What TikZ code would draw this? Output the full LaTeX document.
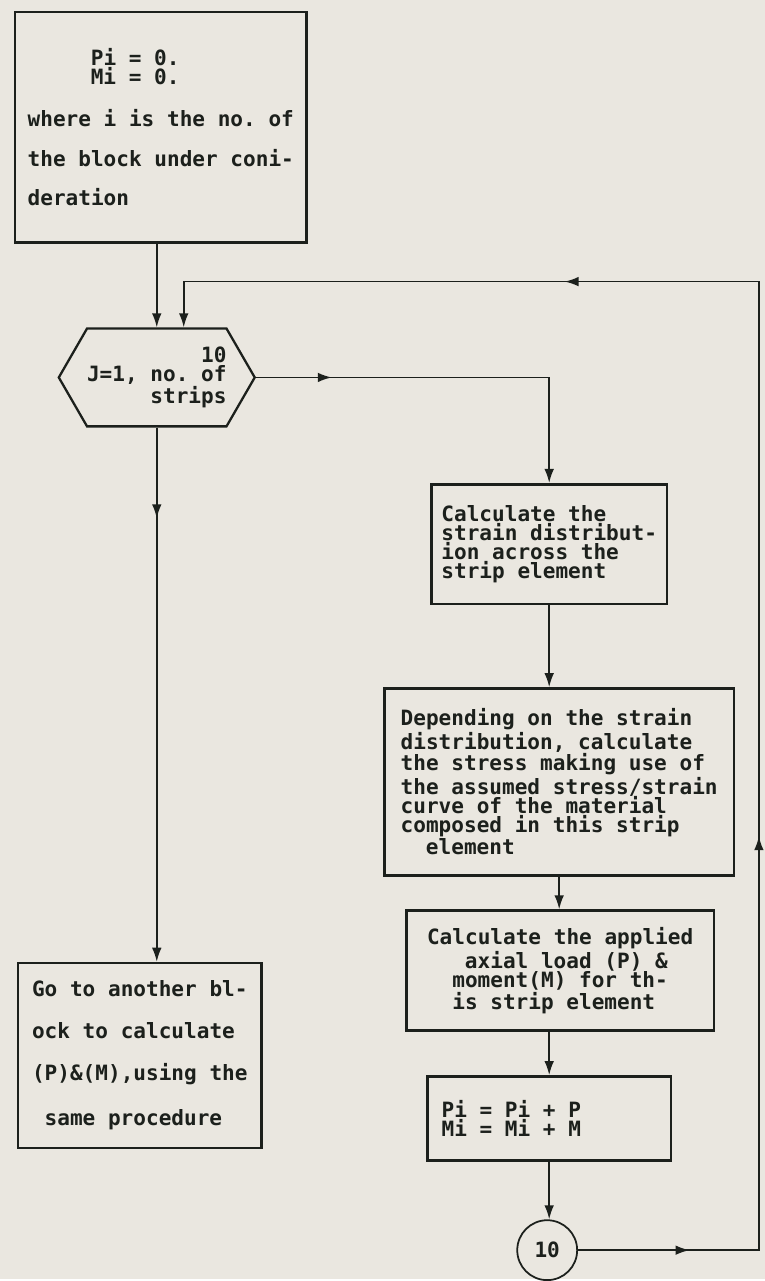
\documentclass[tikz,border=0pt]{standalone}
\usepackage{fontspec}
\setmonofont{DejaVu Sans Mono}
\usetikzlibrary{arrows.meta, shapes.symbols, decorations.markings}
\definecolor{paper}{RGB}{234,231,224}
\definecolor{ink}{RGB}{28,32,28}

\begin{document}
\begin{tikzpicture}[
  ink, >={Latex[length=8pt,width=5.5pt]},
  font=\ttfamily\bfseries\fontsize{12}{11}\selectfont\frenchspacing,
  box/.style={rectangle, draw, line width=1.5pt, align=left, inner sep=4pt},
  hexa/.style={signal, signal to=west and east, signal pointer angle=120, draw, line width=1.3pt, align=right, inner xsep=0pt},
  conn/.style={circle, draw, line width=1pt, minimum size=1.2cm},
  flow/.style={draw, line width=1pt, ->},
  midarrow/.style={postaction={decorate, decoration={markings, mark=at position #1 with {\arrow{>}}}}}
]
  \fill[paper] (0,0) rectangle (15.32,-25.62);

  \node[box, minimum width=5.84cm, minimum height=4.62cm] (init) at (3.22,-2.55)
    {\hspace*{3em}Pi = 0.\\\hspace*{3em}Mi = 0.\\[13pt]where i is the no. of\\[11.5pt]the block under coni-\\[11.5pt]deration};
  \node[hexa, minimum height=1.96cm] (doJ) at (3.14,-7.56) {10\\J=1, no. of\\strips};
  \node[box, minimum width=4.72cm, minimum height=2.4cm] (strain) at (11.0,-10.9)
    {Calculate the\\strain distribut-\\ion across the\\strip element};
  \node[box, minimum width=7.0cm, minimum height=3.74cm] (stress) at (11.2,-15.66)
    {Depending on the strain\\distribution, calculate\\the stress making use of\\the assumed stress/strain\\curve of the material\\composed in this strip\\\hspace*{1.2em}element};
  \node[box, minimum width=6.16cm, minimum height=2.4cm] (load) at (11.22,-19.44)
    {Calculate the applied\\\hspace*{1.8em}axial load (P) \&\\\hspace*{1.2em}moment(M) for th-\\\hspace*{1.2em}is strip element};
  \node[box, minimum width=4.88cm, minimum height=1.68cm] (sum) at (11.0,-22.4)
    {Pi = Pi + P\hspace*{3.6em}\\Mi = Mi + M};
  \node[conn] (ret) at (10.96,-25.04) {10};
  \node[box, minimum width=4.88cm, minimum height=3.7cm] (next) at (2.8,-21.14)
    {Go to another bl-\\[13pt]ock to calculate\\[13pt](P)\&(M),using the\\[13pt]\hspace*{0.6em}same procedure};
  \coordinate (back) at (15.2,-5.64);

  \draw[flow] (doJ.north |- init.south) -- (doJ.north);
  \draw[flow, midarrow=0.063, midarrow=0.336, midarrow=0.759] (ret.east) -| (back) -| ([xshift=0.54cm]doJ.north);
  \draw[flow, midarrow=0.19] (doJ.east) -| (strain.north);
  \draw[flow] (strain.south) -- (strain.south |- stress.north);
  \draw[flow] (stress.south) -- (stress.south |- load.north);
  \draw[flow] (sum.north |- load.south) -- (sum.north);
  \draw[flow] (sum.south) -- (sum.south |- ret.north);
  \draw[flow, midarrow=0.17] (doJ.south) -- (doJ.south |- next.north);
\end{tikzpicture}
\end{document}
